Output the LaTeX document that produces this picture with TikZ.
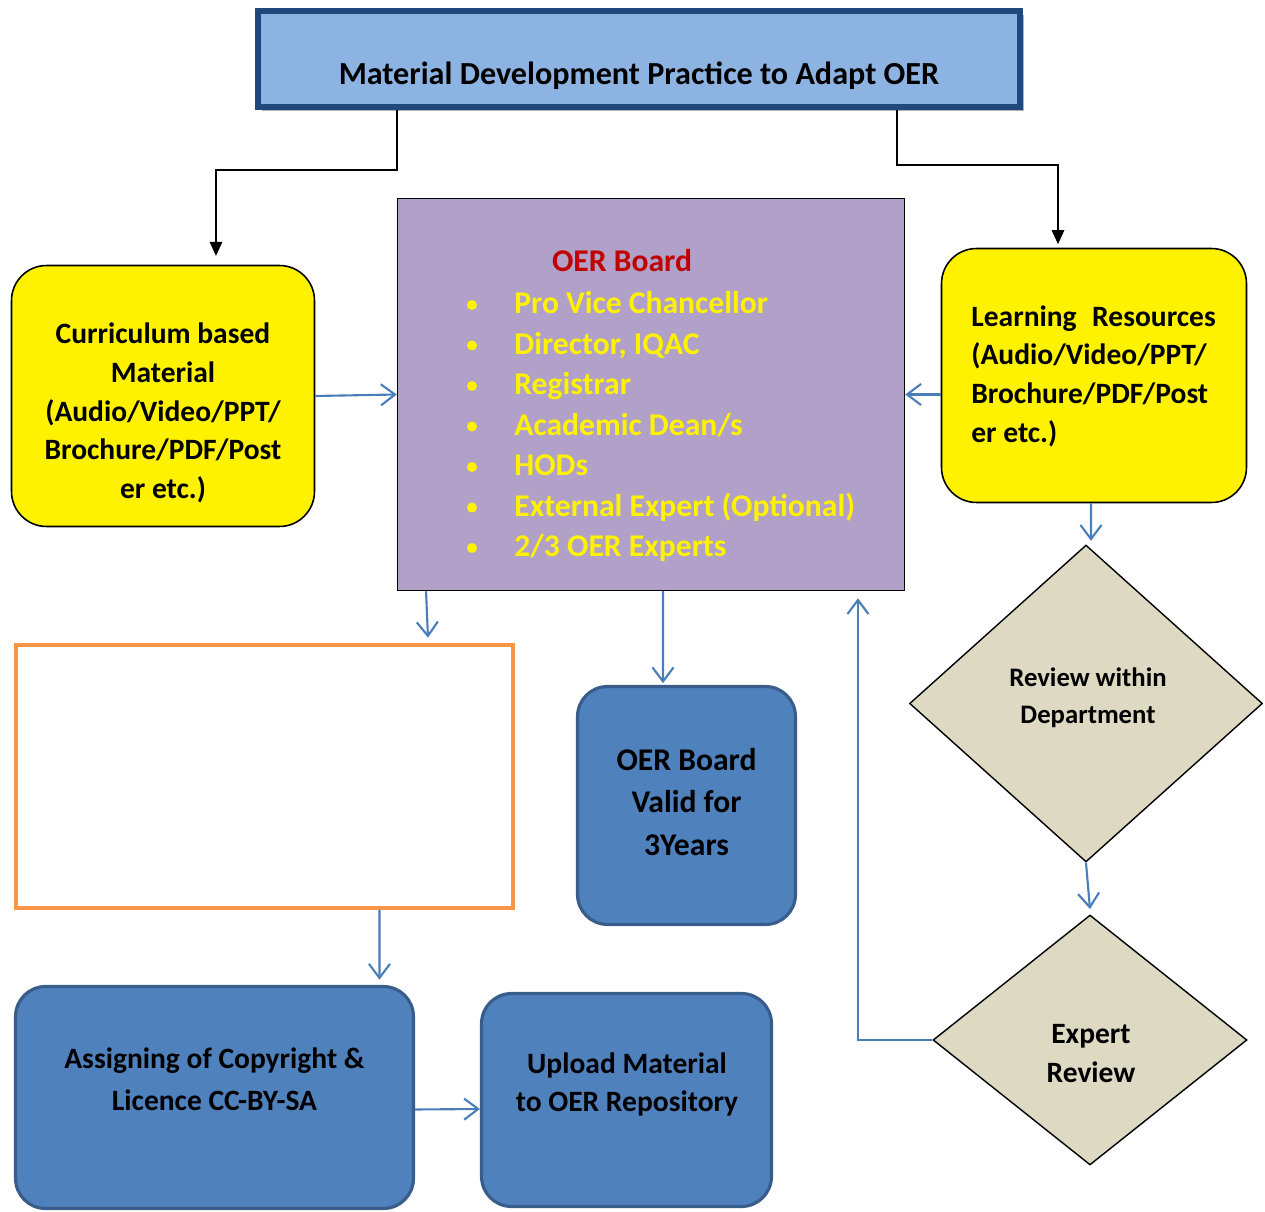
\documentclass[tikz,border=0pt]{standalone}
\usepackage{fontspec}
\setmainfont{Carlito}
\usetikzlibrary{arrows.meta,shapes.geometric,shadows}
\definecolor{titlefill}{HTML}{8DB3E2}
\definecolor{titleline}{HTML}{1F497D}
\definecolor{boardfill}{HTML}{B1A0C7}
\definecolor{boardred}{HTML}{C00000}
\definecolor{stepblue}{HTML}{4F81BD}
\definecolor{stepline}{HTML}{385D8A}
\definecolor{blankline}{HTML}{F79646}
\definecolor{reviewfill}{HTML}{DDD9C3}
\definecolor{flowblue}{HTML}{4A7EBB}
\tikzset{
	yellowbox/.style={draw=black, line width=0.9pt, fill=yellow, rounded corners=0.7cm},
	bluebox/.style={draw=stepline, line width=1.8pt, fill=stepblue, rounded corners=0.6cm},
	reviewbox/.style={diamond, draw=black, line width=0.8pt, fill=reviewfill, inner sep=0pt},
	boxtext/.style={font=\fontsize{16.8}{22}\selectfont\bfseries, align=center, inner sep=0pt},
	boardtext/.style={boxtext, font=\fontsize{18}{22}\selectfont\bfseries},
	flow/.style={draw=flowblue, line width=1.2pt, -{Straight Barb[length=8pt,width=12pt]}},
	feed/.style={draw=black, line width=1.1pt, -{Triangle[length=8pt,width=7pt]}}
}
\begin{document}
\begin{tikzpicture}[x=0.02cm, y=-0.02cm]
	\useasboundingbox (0,0) rectangle (1265,1212);
	% title
	\node[draw=titleline, line width=3.4pt, fill=titlefill, minimum width=15.24cm, minimum height=1.92cm,
		drop shadow={shadow xshift=2.5pt, shadow yshift=-2.5pt, fill=black!30, opacity=1}] (title) at (639,59) {};
	\node[boxtext, font=\fontsize{18.3}{20}\selectfont\bfseries] (titletext) at (639,76) {Material Development Practice to Adapt OER};
	% material boxes
	\node[yellowbox, minimum width=6.06cm, minimum height=5.22cm] (curr) at (163,396) {};
	\node[boxtext] (currtext) at (163,413) {Curriculum based\\Material\\(Audio/Video/PPT/\\Brochure/PDF/Post\\er etc.)};
	\node[yellowbox, minimum width=6.1cm, minimum height=5.08cm] (res) at (1094,375.5) {};
	\node[boxtext, align=left, anchor=west] (restext) at (971,376) {Learning\hspace{0.3em} Resources\\(Audio/Video/PPT/\\Brochure/PDF/Post\\er etc.)};
	% board
	\node[draw=black, line width=0.9pt, fill=boardfill, minimum width=10.14cm, minimum height=7.84cm] (board) at (651,394.5) {};
	\node[boardtext, text=boardred] (boardtitle) at (622,261) {OER Board};
	\foreach \item [count=\i] in {Pro Vice Chancellor, {Director, IQAC}, Registrar, Academic Dean/s, HODs, External Expert (Optional), 2/3 OER Experts}{
		\fill[yellow] (472,{305+40.5*(\i-1)}) circle [radius=0.1cm];
		\node[boardtext, text=yellow, anchor=base west] (member\i) at (514,{314+40.5*(\i-1)}) {\item};
	}
	% lower boxes
	\node[draw=blankline, line width=2.3pt, fill=white, minimum width=9.94cm, minimum height=5.26cm] (blank) at (264.5,776.5) {};
	\node[bluebox, minimum width=4.36cm, minimum height=4.76cm] (valid) at (686.5,805.5) {};
	\node[boxtext, font=\fontsize{18}{24}\selectfont\bfseries] (validtext) at (686.5,802) {OER Board\\Valid for\\3Years};
	\node[bluebox, minimum width=7.96cm, minimum height=4.44cm] (assign) at (214.5,1097.5) {};
	\node[boxtext, font=\fontsize{16.8}{24}\selectfont\bfseries] (assigntext) at (214.5,1079) {Assigning of Copyright \&\\Licence CC-BY-SA};
	\node[bluebox, minimum width=5.8cm, minimum height=4.26cm] (upload) at (626.5,1100) {};
	\node[boxtext] (uploadtext) at (627,1084.5) {Upload Material\\to OER Repository};
	% reviews
	\node[reviewbox, minimum width=7.06cm, minimum height=6.34cm] (rev1) at (1086,703.5) {};
	\node[boxtext, font=\fontsize{15.2}{21}\selectfont\bfseries] (rev1text) at (1088,697.5) {Review within\\Department};
	\node[reviewbox, minimum width=6.28cm, minimum height=5cm] (rev2) at (1090,1040) {};
	\node[boxtext] (rev2text) at (1091,1053.5) {Expert\\Review};
	% connectors
	\coordinate (lbend) at (397,170);
	\coordinate (rbend) at (897,165);
	\draw[feed] (title.south -| lbend) -- (lbend) -| ([xshift=1.06cm, yshift=5pt]curr.north);
	\draw[feed] (title.south -| rbend) -- (rbend) -| ([xshift=-0.72cm, yshift=2pt]res.north);
	\draw[flow] (curr.east) -- (board.west);
	\draw[flow] (res.west |- board.east) -- (board.east);
	\draw[flow] ([xshift=-4.5cm]board.south) -- ([xshift=3.27cm, yshift=3pt]blank.north);
	\draw[flow] ([xshift=0.24cm]board.south) -- ([xshift=-0.47cm, yshift=1pt]valid.north);
	\draw[flow] ([xshift=-0.06cm]res.south) -- ([xshift=0.1cm, yshift=2pt]rev1.north);
	\draw[flow] (rev1.south) -- ([yshift=3pt]rev2.north);
	\draw[flow] ([xshift=2.3cm]blank.south) -- ([xshift=3.3cm, yshift=3pt]assign.north);
	\draw[flow] ([yshift=-0.24cm]assign.east) -- ([yshift=-0.18cm]upload.west);
	\draw[flow] (rev2.west) -| ([xshift=4.14cm, yshift=-4pt]board.south);
\end{tikzpicture}
\end{document}
